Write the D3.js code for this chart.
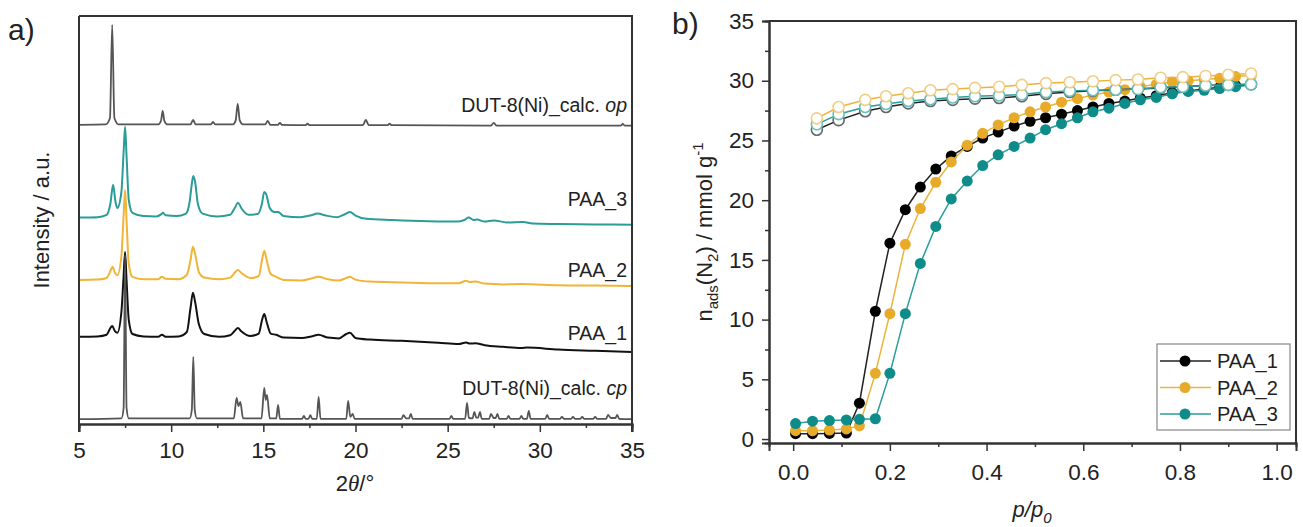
<!DOCTYPE html>
<html>
<head>
<meta charset="utf-8">
<script src="https://cdn.jsdelivr.net/npm/d3@7"></script>
<style>
  body { margin: 0; background: #fff; }
  svg { display: block; font-family: "Liberation Sans", Arial, sans-serif; }
</style>
</head>
<body>
<div id="chart"></div>
<script>
// ---- panel a: XRD patterns, [2theta, intensity a.u.] (offset stacked) ----
const xrdOp = [[5,74.8],[6.45,74.9],[6.68,76.5],[6.8,99.8],[6.92,76.5],[7.15,74.9],[9.3,74.9],[9.45,75.8],[9.54,78.3],[9.63,75.8],[9.8,74.9],
  [11.05,74.9],[11.19,76],[11.33,74.9],[12.15,74.9],[12.27,75.5],[12.4,74.9],[13.35,74.9],[13.5,75.9],[13.61,80],[13.72,75.9],[13.9,74.9],
  [15.1,74.9],[15.24,75.8],[15.38,74.8],[15.8,74.8],[15.9,75.3],[16,74.8],[17.3,74.7],[17.4,75.1],[17.5,74.7],[20.4,74.7],[20.56,76],[20.72,74.7],
  [21.75,74.7],[21.85,75.1],[21.95,74.7],[27.35,74.6],[27.5,75.3],[27.65,74.6],[34.4,74.6],[34.5,75],[34.6,74.6],[35,74.6]];
const xrdPaa3 = [[5,51.6],[6,51.7],[6.5,52.3],[6.7,55],[6.85,59.8],[6.98,55.5],[7.08,54],[7.3,58],[7.42,68],[7.5,74.3],[7.58,67],[7.7,56],[7.9,52.8],
  [8.5,52],[9.2,51.9],[9.45,52.4],[9.56,52.8],[9.7,52.2],[10.3,52],[10.8,52.6],[11,55.5],[11.12,60],[11.2,62],[11.3,60.5],[11.45,55],[11.7,52.6],
  [12.5,51.9],[13.2,52.3],[13.45,54],[13.63,55.3],[13.8,54],[14.2,52.3],[14.7,52.5],[14.92,55],[15.05,58],[15.15,57.5],[15.35,54],[15.6,53],[15.8,53],
  [16.1,52],[17,51.7],[17.6,52.2],[17.95,52.6],[18.4,52.1],[19,51.7],[19.45,52.5],[19.7,53],[20,52.1],[20.6,51.3],[22,51],[24,50.7],[25.5,50.6],
  [25.9,51],[26.15,51.6],[26.4,51],[26.6,51.1],[27,50.6],[27.5,50.9],[28.2,50.4],[29.1,50.5],[29.6,50.1],[31,50],[33,49.9],[35,49.8]];
const xrdPaa2 = [[5,36],[6,36.1],[6.5,36.5],[6.68,38],[6.82,39.3],[6.95,37.8],[7.08,37.2],[7.3,42],[7.42,52],[7.5,58.5],[7.58,51],[7.7,40],[7.9,36.8],
  [8.5,36.2],[9.3,36.2],[9.5,36.8],[9.7,36.3],[10.4,36.2],[10.85,37.3],[11.05,41],[11.18,44.3],[11.3,42.5],[11.5,38],[11.8,36.6],[12.6,36.2],
  [13.2,36.6],[13.45,37.8],[13.62,38.5],[13.8,37.8],[14.3,36.5],[14.75,37],[14.93,41],[15.05,43.3],[15.18,41],[15.4,37.5],[15.7,36.8],[16.1,36],
  [17.1,35.9],[17.6,36.4],[18,36.8],[18.5,36.2],[19.1,35.9],[19.5,36.5],[19.7,36.8],[20,36.1],[20.8,35.6],[22.5,35.4],[24.5,35.2],[25.6,35.2],
  [26,35.8],[26.2,35.5],[26.5,35.6],[27,35.1],[28,34.9],[29,35],[31,34.7],[33,34.6],[35,34.5]];
const xrdPaa1 = [[5,21.8],[6,21.9],[6.5,22.3],[6.68,23.8],[6.8,24.5],[6.95,23.2],[7.08,22.8],[7.3,28],[7.42,37],[7.5,43],[7.58,36],[7.7,26],[7.9,22.5],
  [8.5,21.9],[9.3,21.8],[9.5,22.3],[9.7,21.8],[10.4,21.9],[10.85,23],[11.05,29],[11.18,32.8],[11.3,30.5],[11.5,25],[11.8,22.5],[12.6,21.8],
  [13.2,22.2],[13.45,23.3],[13.62,24],[13.8,23.2],[14.3,22],[14.75,22.6],[14.93,26],[15.05,27.5],[15.18,25.5],[15.4,22.6],[15.7,22.3],[16.1,21.6],
  [17.1,21.5],[17.6,21.9],[18,22.3],[18.5,21.6],[19.1,21.4],[19.5,22.5],[19.7,22.8],[20,21.5],[20.8,21.1],[22.5,20.8],[24.5,20.3],[25.6,20],
  [26,20.4],[26.2,20.1],[26.5,20.2],[27,19.7],[28,19.3],[29,19],[29.3,19.1],[31,18.6],[33,18.3],[35,18]];
const xrdCp = [[5,1.2],[7.3,1.4],[7.42,4],[7.5,42.3],[7.58,4],[7.7,1.4],[11,1.4],[11.12,3.5],[11.2,16.8],[11.28,3.5],[11.4,1.4],[13.4,1.4],[13.55,6.5],
  [13.65,4.5],[13.75,5.5],[13.9,1.4],[14.9,1.4],[15.05,9],[15.13,6],[15.2,7.3],[15.35,1.4],[15.7,1.4],[15.8,4.8],[15.9,1.3],[17.1,1.3],[17.2,2],
  [17.3,1.3],[17.45,1.3],[17.55,2.2],[17.65,1.3],[17.9,1.3],[18,6.8],[18.1,1.3],[19.5,1.3],[19.6,5.8],[19.72,1.8],[19.85,2.5],[19.95,1.3],
  [22.5,1.3],[22.6,2.2],[22.75,1.4],[22.9,1.4],[23,2.5],[23.1,1.3],[25.1,1.3],[25.2,2],[25.3,1.3],[25.95,1.3],[26.05,5.3],[26.15,1.5],[26.35,1.4],
  [26.45,3],[26.55,1.6],[26.65,1.6],[26.75,3],[26.85,1.3],[27.25,1.3],[27.35,2.5],[27.5,1.5],[27.6,1.5],[27.7,2.5],[27.8,1.3],[28.2,1.3],[28.3,2],
  [28.4,1.3],[28.9,1.3],[29,2],[29.1,1.3],[29.3,1.3],[29.4,3.3],[29.5,1.3],[30.3,1.3],[30.4,2.3],[30.5,1.3],[31.1,1.3],[31.2,1.8],[31.3,1.3],
  [31.7,1.3],[31.8,1.8],[31.9,1.3],[32.2,1.3],[32.3,1.8],[32.4,1.3],[32.9,1.3],[33,1.8],[33.1,1.3],[33.6,1.3],[33.7,2.3],[33.85,1.5],[34.1,1.5],
  [34.2,2.3],[34.3,1.3],[35,1.2]];
const xrdTicks = [5, 10, 15, 20, 25, 30, 35];

// ---- panel b: N2 isotherms ----
const pAds = [0.005, 0.04, 0.075, 0.11, 0.137, 0.17, 0.2, 0.232, 0.263, 0.295, 0.327, 0.36, 0.392, 0.424, 0.457, 0.49,
  0.522, 0.555, 0.588, 0.62, 0.653, 0.686, 0.718, 0.751, 0.784, 0.817, 0.85, 0.882, 0.915, 0.948];
const adsPaa1 = [0.45, 0.45, 0.47, 0.5, 3.0, 10.7, 16.4, 19.2, 21.1, 22.6, 23.7, 24.5, 25.2, 25.7, 26.2, 26.6,
  26.9, 27.2, 27.5, 27.8, 28.1, 28.3, 28.55, 28.75, 29.0, 29.15, 29.3, 29.45, 29.6, 29.7];
const adsPaa2 = [0.7, 0.7, 0.75, 0.85, 1.1, 5.5, 10.5, 16.3, 19.3, 21.5, 23.2, 24.6, 25.6, 26.3, 26.9, 27.4,
  27.8, 28.2, 28.5, 28.8, 29.05, 29.25, 29.5, 29.7, 29.9, 30.0, 30.1, 30.2, 30.35, 30.45];
const adsPaa3 = [1.3, 1.5, 1.55, 1.6, 1.65, 1.7, 5.5, 10.5, 14.7, 17.8, 20.1, 21.6, 22.9, 23.8, 24.5, 25.2,
  25.9, 26.4, 26.9, 27.4, 27.7, 28.1, 28.4, 28.6, 28.9, 29.1, 29.2, 29.35, 29.5, 29.65];
const pDes = [0.947, 0.9, 0.853, 0.806, 0.76, 0.713, 0.667, 0.62, 0.572, 0.523, 0.473, 0.426, 0.376, 0.33, 0.284,
  0.238, 0.192, 0.149, 0.094, 0.049];
const desPaa1 = [29.7, 29.65, 29.6, 29.5, 29.4, 29.3, 29.25, 29.15, 29.05, 28.9, 28.7, 28.55, 28.5, 28.4, 28.3,
  28.1, 27.8, 27.45, 26.7, 25.9];
const desPaa2 = [30.6, 30.5, 30.4, 30.3, 30.25, 30.1, 30.05, 29.95, 29.87, 29.8, 29.65, 29.5, 29.4, 29.3, 29.2,
  28.95, 28.7, 28.4, 27.8, 26.85];
const desPaa3 = [29.7, 29.65, 29.6, 29.5, 29.45, 29.3, 29.25, 29.2, 29.15, 29.05, 28.85, 28.76, 28.7, 28.6, 28.45,
  28.3, 28.05, 27.8, 27.2, 26.35];
const isoNames = ["PAA_1", "PAA_2", "PAA_3"];
const pTicks = [0, 0.2, 0.4, 0.6, 0.8, 1.0];
const nTicks = [0, 5, 10, 15, 20, 25, 30, 35];

const W = 1303, H = 527;
const svg = d3.select("#chart").append("svg").attr("width", W).attr("height", H);
const ink = "#222";

// ================= panel a =================
const xa = d3.scaleLinear().domain([5, 35]).range([79, 632]);
const ya = d3.scaleLinear().domain([0, 102]).range([424, 16]);
const ga = svg.append("g");

const xrdLine = d3.line().x(d => xa(d[0])).y(d => ya(d[1])).curve(d3.curveMonotoneX);
const xrdSeries = [
  { data: xrdOp, color: "#555", w: 1.8, label: "DUT-8(Ni)_calc. ", it: "op", ly: 112 },
  { data: xrdPaa3, color: "#2a9d99", w: 2, label: "PAA_3", ly: 206 },
  { data: xrdPaa2, color: "#f0b436", w: 2, label: "PAA_2", ly: 277 },
  { data: xrdPaa1, color: "#111", w: 2, label: "PAA_1", ly: 340 },
  { data: xrdCp, color: "#555", w: 1.8, label: "DUT-8(Ni)_calc. ", it: "cp", ly: 395 }
];
ga.selectAll("path.xrd").data(xrdSeries).join("path")
  .attr("class", "xrd")
  .attr("d", d => xrdLine(d.data))
  .attr("fill", "none")
  .attr("stroke", d => d.color)
  .attr("stroke-width", d => d.w)
  .attr("stroke-linejoin", "round");

xrdSeries.forEach(s => {
  const t = ga.append("text").attr("x", 627).attr("y", s.ly)
    .attr("text-anchor", "end").attr("font-size", 19.5).attr("fill", ink).text(s.label);
  if (s.it) t.append("tspan").attr("font-style", "italic").text(s.it);
});

// frame
ga.append("path")
  .attr("d", `M${xa(5)},${ya(102)}H${xa(35)}V${ya(0) + 8}M${xa(5)},${ya(0) + 8}V${ya(102)}`)
  .attr("fill", "none").attr("stroke", "#333").attr("stroke-width", 2);

const axA = ga.append("g").attr("transform", `translate(0,${ya(0)})`)
  .call(d3.axisBottom(xa).tickValues(xrdTicks).tickSize(8).tickPadding(10).tickFormat(d3.format("d")));
const axAm = ga.append("g").attr("transform", `translate(0,${ya(0)})`)
  .call(d3.axisBottom(xa).tickValues(d3.range(7.5, 35, 5)).tickSize(4).tickFormat(""));
[axA, axAm].forEach(a => {
  a.select(".domain").attr("stroke", "#333").attr("stroke-width", 2);
  a.selectAll(".tick line").attr("stroke", "#333").attr("stroke-width", 1.5);
  a.selectAll("text").attr("font-size", 22.5).attr("fill", ink).attr("font-family", "Liberation Sans, Arial, sans-serif");
});

const xtA = ga.append("text").attr("x", 355).attr("y", 491).attr("text-anchor", "middle")
  .attr("font-size", 22).attr("fill", ink);
xtA.append("tspan").text("2");
xtA.append("tspan").attr("font-style", "italic").attr("font-family", "Liberation Serif, serif").attr("font-size", 23).text("θ");
xtA.append("tspan").text("/°");

ga.append("text").attr("transform", `translate(49,220) rotate(-90)`)
  .attr("text-anchor", "middle").attr("font-size", 22).attr("fill", ink).text("Intensity / a.u.");

svg.append("text").attr("x", 8).attr("y", 40).attr("font-size", 30).attr("fill", ink).text("a)");
svg.append("text").attr("x", 672).attr("y", 34).attr("font-size", 30).attr("fill", ink).text("b)");

// ================= panel b =================
const xb = d3.scaleLinear().domain([-0.05, 1.04]).range([769, 1296]);
const yb = d3.scaleLinear().domain([-0.33, 35]).range([443, 21]);
const gb = svg.append("g");

const isoColors = ["#000", "#e8ab29", "#0e8c89"];
const isoLine = ["#222", "#eab33a", "#2a9d99"];
const openStroke = ["#666", "#f2cd84", "#6cbfbc"];
const ads = [adsPaa1, adsPaa2, adsPaa3];
const des = [desPaa1, desPaa2, desPaa3];
const lineB = d3.line().x(d => xb(d[0])).y(d => yb(d[1]));

// adsorption: lines + filled symbols
ads.forEach((arr, i) => {
  const pts = pAds.map((p, k) => [p, arr[k]]);
  gb.append("path").attr("d", lineB(pts)).attr("fill", "none")
    .attr("stroke", isoLine[i]).attr("stroke-width", 1.5);
  gb.append("g").selectAll("circle").data(pts).join("circle")
    .attr("cx", d => xb(d[0])).attr("cy", d => yb(d[1])).attr("r", 5.5)
    .attr("fill", isoColors[i]);
});
// desorption: lines + open symbols
[0, 2, 1].forEach(i => {
  const pts = pDes.map((p, k) => [p, des[i][k]]);
  gb.append("path").attr("d", lineB(pts)).attr("fill", "none")
    .attr("stroke", isoLine[i]).attr("stroke-width", 1.5);
  gb.append("g").selectAll("circle").data(pts).join("circle")
    .attr("cx", d => xb(d[0])).attr("cy", d => yb(d[1])).attr("r", 5.5)
    .attr("fill", "#fff").attr("stroke", openStroke[i]).attr("stroke-width", 1.6);
});

// frame
gb.append("path")
  .attr("d", `M${xb(-0.05)},${yb(35)}H${xb(1.04)}V${yb(-0.33)}`)
  .attr("fill", "none").attr("stroke", "#333").attr("stroke-width", 2);

const axBx = gb.append("g").attr("transform", `translate(0,${yb(-0.33)})`)
  .call(d3.axisBottom(xb).tickValues(pTicks).tickSize(8).tickPadding(13).tickFormat(d3.format(".1f")));
const axBxm = gb.append("g").attr("transform", `translate(0,${yb(-0.33)})`)
  .call(d3.axisBottom(xb).tickValues([0.1, 0.3, 0.5, 0.7, 0.9]).tickSize(4).tickFormat(""));
const axBy = gb.append("g").attr("transform", `translate(${xb(-0.05)},0)`)
  .call(d3.axisLeft(yb).tickValues(nTicks).tickSize(7).tickPadding(8).tickFormat(d3.format("d")));
const axBym = gb.append("g").attr("transform", `translate(${xb(-0.05)},0)`)
  .call(d3.axisLeft(yb).tickValues(d3.range(2.5, 35, 5)).tickSize(4).tickFormat(""));
[axBx, axBxm, axBy, axBym].forEach(a => {
  a.select(".domain").attr("stroke", "#333").attr("stroke-width", 2);
  a.selectAll(".tick line").attr("stroke", "#333").attr("stroke-width", 1.5);
  a.selectAll("text").attr("font-size", 22.5).attr("fill", ink).attr("font-family", "Liberation Sans, Arial, sans-serif");
});

// axis titles
const xtB = gb.append("text").attr("x", 1032).attr("y", 517).attr("text-anchor", "middle")
  .attr("font-size", 22).attr("fill", ink).attr("font-style", "italic");
xtB.append("tspan").text("p/p");
xtB.append("tspan").attr("font-size", 15).attr("dy", 6).text("0");

const ytB = gb.append("text").attr("transform", `translate(712,232) rotate(-90)`)
  .attr("text-anchor", "middle").attr("font-size", 22).attr("fill", ink);
ytB.append("tspan").text("n");
ytB.append("tspan").attr("font-size", 15).attr("dy", 6).text("ads");
ytB.append("tspan").attr("dy", -6).text("(N");
ytB.append("tspan").attr("font-size", 15).attr("dy", 6).text("2");
ytB.append("tspan").attr("dy", -6).text(") / mmol g");
ytB.append("tspan").attr("font-size", 15).attr("dy", -9).text("-1");

// legend
const lg = gb.append("g").attr("transform", "translate(1157,344)");
lg.append("rect").attr("width", 133).attr("height", 86).attr("fill", "#fff")
  .attr("stroke", "#888").attr("stroke-width", 1.2);
isoNames.forEach((name, i) => {
  const yy = 17 + i * 26.5;
  lg.append("line").attr("x1", 3).attr("x2", 54).attr("y1", yy).attr("y2", yy)
    .attr("stroke", isoLine[i]).attr("stroke-width", 1.5);
  lg.append("circle").attr("cx", 28).attr("cy", yy).attr("r", 5.5).attr("fill", isoColors[i]);
  lg.append("text").attr("x", 60).attr("y", yy + 7).attr("font-size", 20).attr("fill", ink).text(name);
});
</script>
</body>
</html>
